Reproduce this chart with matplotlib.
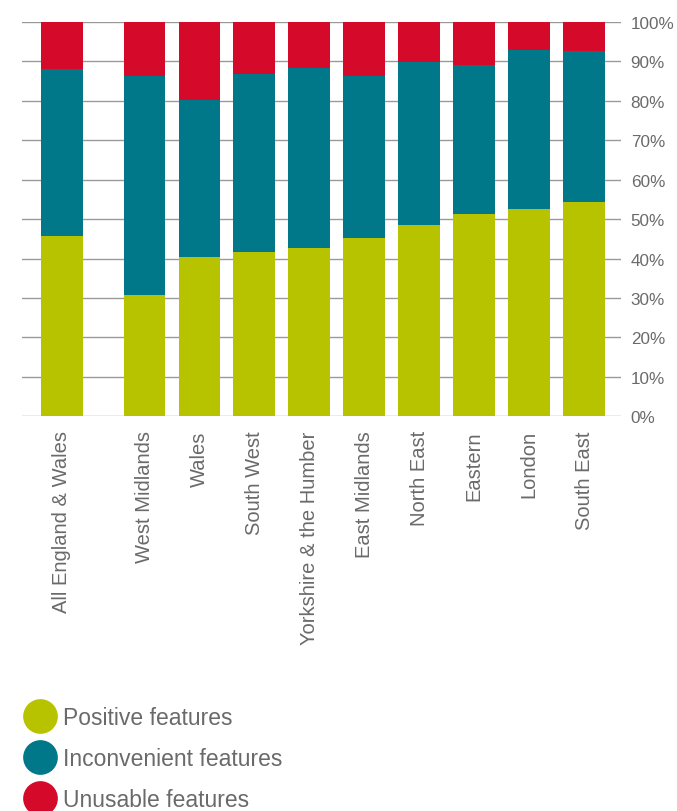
import matplotlib.pyplot as plt
from matplotlib.lines import Line2D
import numpy as np

plt.rcParams['font.family'] = ['Liberation Sans', 'DejaVu Sans']

regions = ["All England & Wales", "West Midlands", "Wales", "South West",
           "Yorkshire & the Humber", "East Midlands", "North East",
           "Eastern", "London", "South East"]
positive = [45.6, 30.7, 40.3, 41.6, 42.6, 45.1, 48.4, 51.2, 52.5, 54.3]
inconvenient = [42.6, 55.6, 39.8, 45.2, 45.8, 41.1, 41.5, 38.0, 40.4, 38.4]
unusable = [100 - p - i for p, i in zip(positive, inconvenient)]

green = "#b8c300"
teal = "#00788a"
red = "#d50a2a"
grey_text = "#6a6a6a"

# gap after the national total
x = np.array([0] + [i + 0.5 for i in range(1, len(regions))])
width = 0.76

fig = plt.figure(figsize=(6.77, 8.12), dpi=100)
ax = fig.add_axes([0.0325, 0.4861, 0.8848, 0.4856])

bottom2 = np.array(positive)
bottom3 = bottom2 + np.array(inconvenient)
ax.bar(x, positive, width=width, color=green, zorder=2)
ax.bar(x, inconvenient, width=width, bottom=bottom2, color=teal, zorder=2)
ax.bar(x, unusable, width=width, bottom=bottom3, color=red, zorder=2)

ax.set_xlim(-0.727, 10.17)
ax.set_ylim(0, 100)
ax.set_yticks(np.arange(0, 101, 10))
ax.set_yticklabels([f"{v}%" for v in range(0, 101, 10)])
ax.yaxis.tick_right()
ax.tick_params(axis='y', length=0, pad=7, labelsize=12.3, labelcolor=grey_text)
ax.grid(axis='y', color="#9a9a9a", linewidth=1.0, zorder=0)

ax.set_xticks(x)
ax.set_xticklabels(regions, rotation=90, fontsize=14.5, color=grey_text)
ax.tick_params(axis='x', length=0, pad=10)

for s in ax.spines.values():
    s.set_visible(False)

handles = [Line2D([], [], linestyle='none', marker='o', markersize=25,
                  markerfacecolor=c, markeredgecolor='none')
           for c in (green, teal, red)]
fig.legend(handles, ["Positive features", "Inconvenient features", "Unusable features"],
           loc='upper left', bbox_to_anchor=(0.042, 0.1287), frameon=False,
           fontsize=16.5, labelcolor=grey_text, handlelength=1.0,
           handletextpad=0.5, labelspacing=0.77, borderpad=0, borderaxespad=0)

fig.savefig("out.png", dpi=100)
